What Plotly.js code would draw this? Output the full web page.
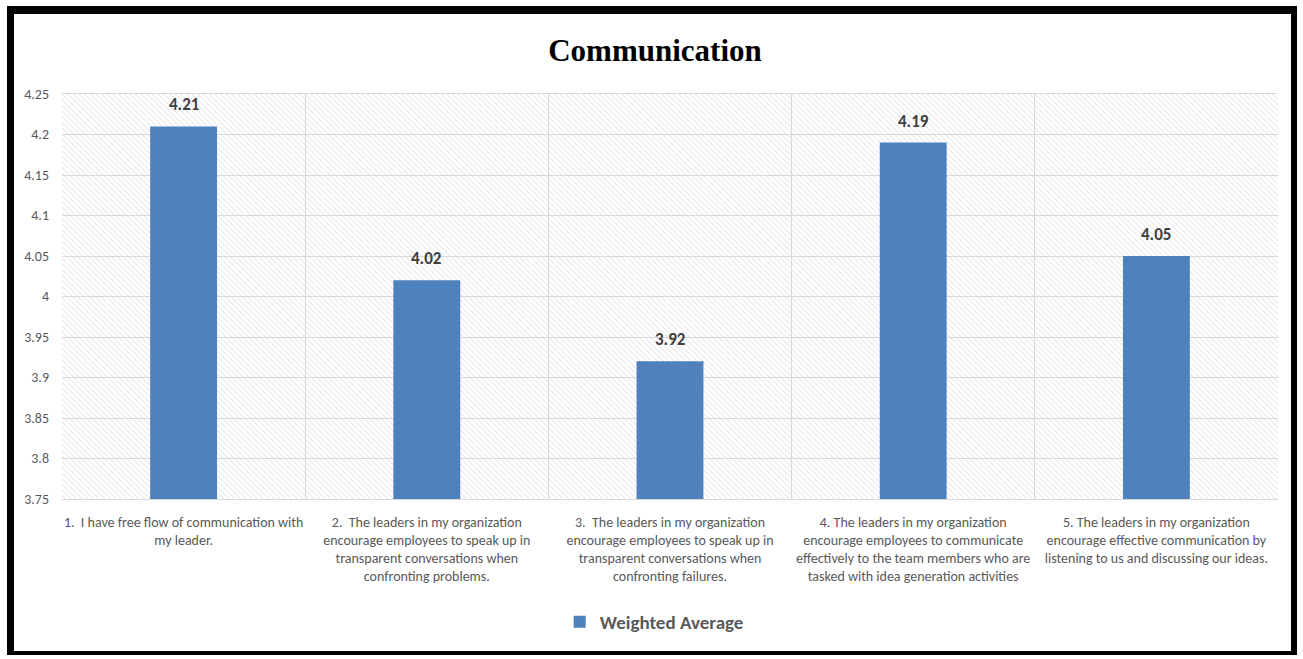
<!DOCTYPE html>
<html>
<head>
<meta charset="utf-8">
<script src="https://cdn.plot.ly/plotly-3.0.1.min.js"></script>
<style>
  html, body { margin: 0; padding: 0; background: #fff; }
  #wrap { position: relative; width: 1303px; height: 659px; }
  #chart { width: 1303px; height: 659px; }
  #frame { position: absolute; left: 7px; top: 6px; width: 1290px; height: 649px;
           border-left: 7px solid #000; border-top: 8px solid #000; border-right: 6px solid #000; border-bottom: 4px solid #000;
           box-sizing: border-box; pointer-events: none; }
</style>
</head>
<body>
<div id="wrap">
  <div id="chart"></div>
  <div id="frame"></div>
</div>
<script>
const categories = [
  "1.  I have free flow of communication with<br>my leader.",
  "2.  The leaders in my organization<br>encourage employees to speak up in<br>transparent conversations when<br>confronting problems.",
  "3.  The leaders in my organization<br>encourage employees to speak up in<br>transparent conversations when<br>confronting failures.",
  "4. The leaders in my organization<br>encourage employees to communicate<br>effectively to the team members who are<br>tasked with idea generation activities",
  "5. The leaders in my organization<br>encourage effective communication by<br>listening to us and discussing our ideas."
];
const weightedAverage = [4.21, 4.02, 3.92, 4.19, 4.05];
const seriesName = "Weighted Average";
const yTickVals = [3.75, 3.8, 3.85, 3.9, 3.95, 4, 4.05, 4.1, 4.15, 4.2, 4.25];
const yTickText = ["3.75", "3.8", "3.85", "3.9", "3.95", "4", "4.05", "4.1", "4.15", "4.2", "4.25"];

const labelFont = "Carlito, Calibri, 'Liberation Sans Narrow', 'Open Sans', sans-serif";

const background = {
  type: "bar", x: [0.5], y: [1], width: [1],
  xaxis: "x", yaxis: "y",
  marker: { color: "rgba(0,0,0,0)", line: { width: 0 },
            pattern: { shape: "\\", fgcolor: "#d6d6d6", bgcolor: "rgba(0,0,0,0)", size: 4, solidity: 0.2 } },
  hoverinfo: "skip", showlegend: false
};

const bars = {
  type: "bar", name: seriesName,
  x: categories, y: weightedAverage,
  xaxis: "x2", yaxis: "y2",
  width: 0.275,
  marker: { color: "#4f81bd", line: { width: 0 } },
  hoverinfo: "y"
};

const annotations = categories.map((c, i) => ({
  x: c, y: weightedAverage[i], xref: "x2", yref: "y2",
  text: "<b>" + weightedAverage[i].toFixed(2) + "</b>",
  showarrow: false, yanchor: "bottom", yshift: 9,
  font: { family: labelFont, size: 17, color: "#404040" }
}));

const layout = {
  width: 1303, height: 659,
  margin: { l: 62, r: 25, t: 94, b: 160 },
  paper_bgcolor: "#ffffff", plot_bgcolor: "#ffffff",
  title: { text: "<b>Communication</b>", x: 655 / 1303, xref: "container", xanchor: "center",
           y: 1 - 50 / 659, yanchor: "middle",
           font: { family: "'Liberation Serif', 'Times New Roman', serif", size: 31, color: "#000" } },
  barmode: "overlay",
  xaxis: { domain: [0, 1], range: [0, 1], visible: false, fixedrange: true },
  yaxis: { domain: [0, 1], range: [0, 1], visible: false, fixedrange: true },
  xaxis2: { overlaying: "x", anchor: "y2", type: "category", tickson: "boundaries",
            showgrid: true, gridcolor: "#d9d9d9", gridwidth: 1,
            showline: true, linecolor: "#d9d9d9", mirror: true, ticks: "",
            tickangle: 0, automargin: false,
            ticklabelstandoff: 10,
            tickfont: { family: labelFont, size: 14, color: "#595959" } },
  yaxis2: { overlaying: "y", anchor: "x2", range: [3.75, 4.25],
            tickvals: yTickVals, ticktext: yTickText,
            showgrid: true, gridcolor: "#d9d9d9", gridwidth: 1, zeroline: false,
            showline: false, ticks: "", ticklabelstandoff: 12, automargin: false,
            tickfont: { family: labelFont, size: 14, color: "#595959" } },
  showlegend: true,
  legend: { orientation: "h", x: 0.487, xanchor: "center", y: (499 - 622) / 405, yanchor: "middle",
            font: { family: labelFont, size: 19, color: "#595959", weight: "bold" },
            itemwidth: 30 },
  annotations: annotations
};

Plotly.newPlot("chart", [background, bars], layout, { displayModeBar: false, staticPlot: true });
</script>
</body>
</html>
